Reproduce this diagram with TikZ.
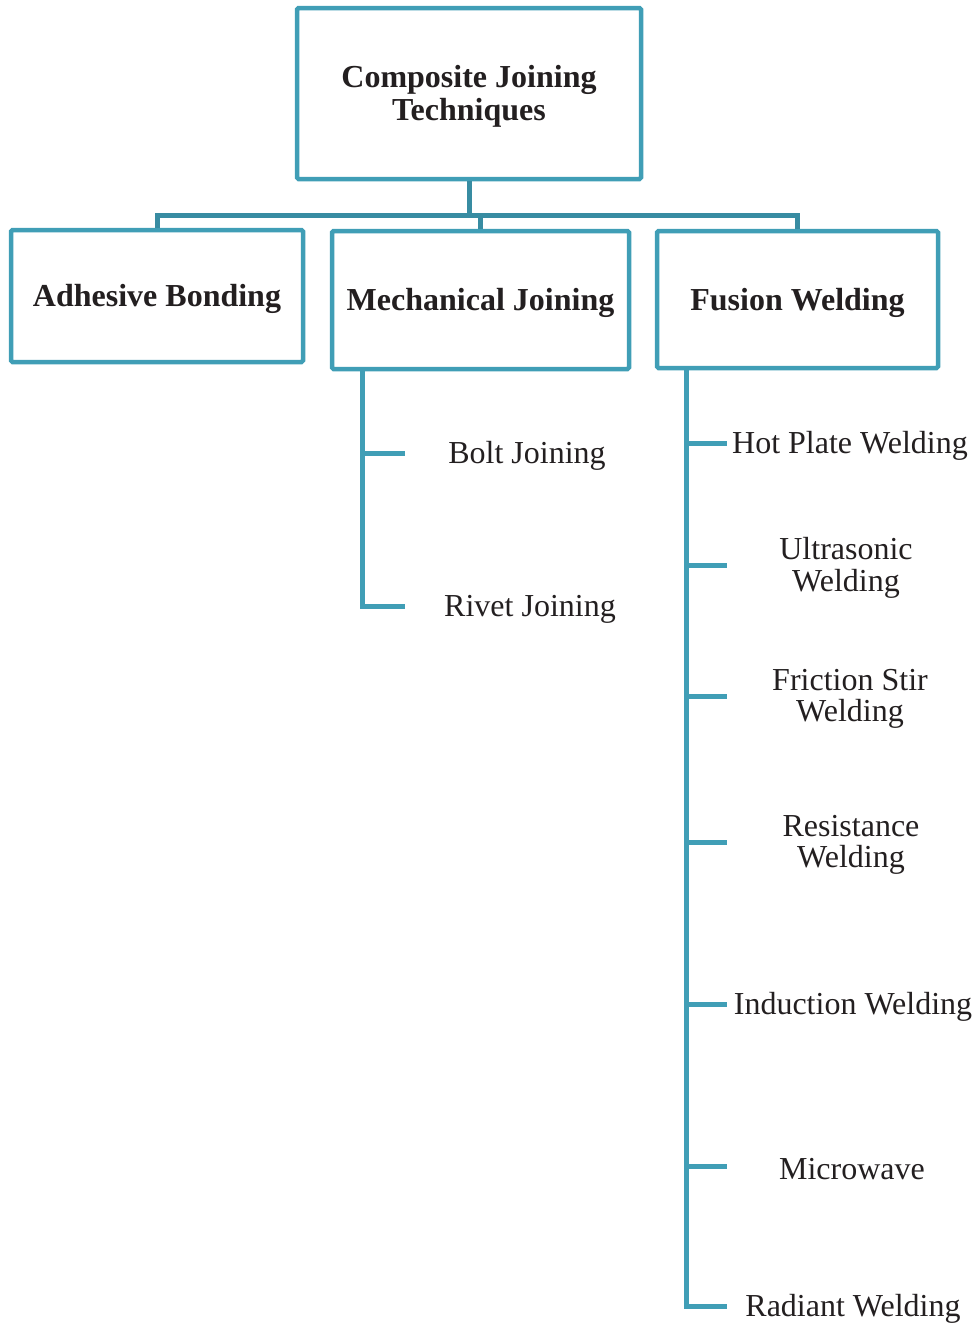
\documentclass[tikz,border=0pt]{standalone}
\usepackage{fontspec}
\setmainfont{Liberation Serif}
\definecolor{teal1}{RGB}{64,158,182}
\definecolor{teal2}{RGB}{56,140,162}
\definecolor{ink}{RGB}{35,31,32}
\begin{document}
\begin{tikzpicture}[x=1pt,y=-1pt,
  box/.style={draw=teal1,line width=4.5pt,rounded corners=1.5pt,fill=white,inner sep=0pt},
  boxtext/.style={inner sep=0pt,align=center,text=ink,font=\fontsize{32}{33}\selectfont\bfseries},
  leaf/.style={inner sep=0pt,align=center,text=ink,font=\fontsize{32}{31.5}\selectfont},
  conn/.style={draw=teal1,line width=5pt},
  bus/.style={draw=teal2,line width=5pt}]
\useasboundingbox (0,0) rectangle (978,1326);
\coordinate (bus) at (469,215);
% boxes
\node[box,minimum width=344pt,minimum height=171pt] (root) at (469,93.5) {};
\node[box,minimum width=292pt,minimum height=132pt] (adh) at (157,296) {};
\node[box,minimum width=297pt,minimum height=138pt] (mech) at (480.5,300) {};
\node[box,minimum width=281pt,minimum height=137pt] (fus) at (797.5,299.5) {};
\node[boxtext] (rootT) at (469,96) {Composite Joining\\Techniques};
\node[boxtext] (adhT) at (157,299) {Adhesive Bonding};
\node[boxtext] (mechT) at (480.5,303) {Mechanical Joining};
\node[boxtext] (fusT) at (797.5,303) {Fusion Welding};
% bus
\draw[bus] (root.south) -- (bus);
\draw[bus] (adh.north) |- (fus.north |- bus) -- (fus.north);
\draw[bus] (mech.north) -- (mech.north |- bus);
% mechanical subtree
\coordinate (mtop) at (362,369);
\coordinate (bt) at (405,453);
\coordinate (rt) at (405,606);
\draw[conn] (mtop) |- (rt);
\draw[conn] (mtop |- bt) -- (bt);
\node[leaf] (bolt) at (527,456) {Bolt Joining};
\node[leaf] (rivet) at (530,609) {Rivet Joining};
% fusion subtree
\coordinate (ftop) at (686,368);
\coordinate (t1) at (727,443);
\coordinate (t2) at (727,565);
\coordinate (t3) at (727,696);
\coordinate (t4) at (727,842);
\coordinate (t5) at (727,1004);
\coordinate (t6) at (727,1166);
\coordinate (t7) at (727,1306);
\draw[conn] (ftop) |- (t7);
\foreach \t in {t1,t2,t3,t4,t5,t6} \draw[conn] (ftop |- \t) -- (\t);
\node[leaf] (hot) at (850,446) {Hot Plate Welding};
\node[leaf] (ultra) at (846,568) {Ultrasonic\\Welding};
\node[leaf] (fric) at (850,699) {Friction Stir\\Welding};
\node[leaf] (res) at (851,845) {Resistance\\Welding};
\node[leaf] (ind) at (853,1007) {Induction Welding};
\node[leaf] (micro) at (852,1169) {Microwave};
\node[leaf] (rad) at (853,1309) {Radiant Welding};
\end{tikzpicture}
\end{document}
